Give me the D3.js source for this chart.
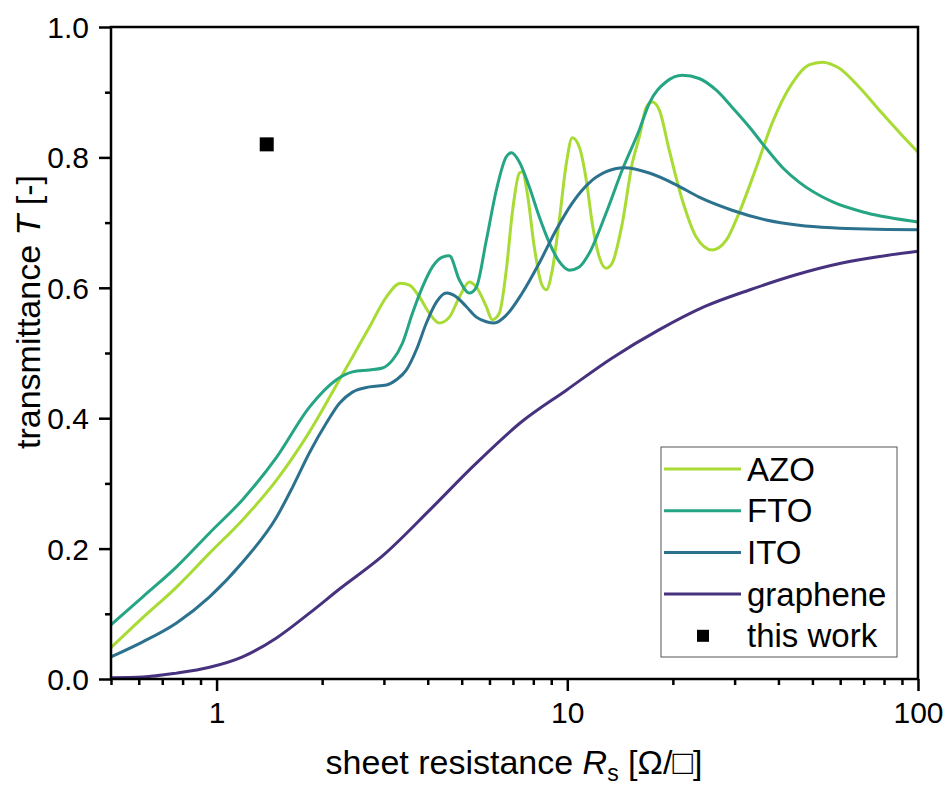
<!DOCTYPE html>
<html>
<head>
<meta charset="utf-8">
<script src="https://cdn.jsdelivr.net/npm/d3@7"></script>
<style>
  body { margin: 0; background: #fff; }
  text { font-family: "Liberation Sans", Arial, sans-serif; fill: #000; }
</style>
</head>
<body>
<div id="chart"></div>
<script>
// data: [sheet resistance, transmittance]
const azo = [[0.5,0.048],[0.616,0.094],[0.769,0.141],[0.955,0.193],[1.186,0.244],[1.482,0.305],[1.84,0.379],
  [2.241,0.459],[2.441,0.494],[2.729,0.54],[3.051,0.586],[3.344,0.607],[3.548,0.604],[3.787,0.586],[4.045,0.561],
  [4.318,0.546],[4.611,0.555],[4.924,0.586],[5.258,0.609],[5.505,0.601],[5.877,0.571],[6.11,0.551],[6.4,0.561],
  [6.7,0.627],[6.97,0.715],[7.3,0.776],[7.44,0.778],[7.69,0.745],[8.05,0.663],[8.43,0.607],[8.71,0.597],
  [9.06,0.627],[9.49,0.704],[9.94,0.791],[10.33,0.83],[10.82,0.816],[11.33,0.765],[11.78,0.699],[12.34,0.647],
  [12.91,0.63],[13.43,0.638],[14.35,0.699],[15.32,0.791],[16.04,0.831],[16.8,0.877],[17.47,0.885],[18.29,0.873],
  [19.53,0.811],[21.27,0.735],[23.31,0.678],[25.9,0.658],[28.4,0.673],[30.9,0.715],[34.6,0.785],[38.4,0.853],
  [43.8,0.914],[48.9,0.942],[53.3,0.946],[59.5,0.937],[67.9,0.908],[78.9,0.868],[90,0.834],[100,0.808]];

const fto = [[0.5,0.083],[0.616,0.126],[0.769,0.172],[0.955,0.224],[1.186,0.275],[1.482,0.34],[1.84,0.417],
  [2.197,0.459],[2.441,0.471],[2.729,0.474],[2.972,0.477],[3.173,0.489],[3.388,0.515],[3.618,0.561],[3.863,0.601],
  [4.125,0.632],[4.405,0.647],[4.611,0.649],[4.924,0.612],[5.258,0.592],[5.505,0.601],[5.877,0.673],[6.277,0.75],
  [6.7,0.801],[6.93,0.807],[7.3,0.793],[7.79,0.755],[8.32,0.709],[8.89,0.669],[9.49,0.64],[10.13,0.627],
  [10.82,0.632],[11.55,0.653],[12.91,0.715],[14.35,0.781],[16.04,0.842],[17.13,0.883],[19.15,0.916],[21.27,0.926],
  [23.77,0.921],[26.6,0.903],[29.5,0.877],[33,0.847],[36.9,0.814],[41,0.785],[45.8,0.762],[56.9,0.732],
  [71.1,0.715],[100,0.701]];

const ito = [[0.5,0.034],[0.616,0.057],[0.769,0.086],[0.955,0.126],[1.186,0.179],[1.482,0.248],[1.646,0.294],
  [1.84,0.347],[2.058,0.393],[2.241,0.423],[2.441,0.44],[2.729,0.448],[3.051,0.451],[3.257,0.459],[3.477,0.474],
  [3.713,0.505],[3.965,0.546],[4.234,0.578],[4.522,0.592],[4.829,0.586],[5.156,0.571],[5.505,0.555],[5.877,0.548],
  [6.19,0.546],[6.7,0.558],[7.44,0.592],[8.32,0.638],[9.3,0.689],[10.33,0.73],[11.55,0.761],[12.91,0.778],
  [14.54,0.784],[17.13,0.776],[20.44,0.758],[23.77,0.739],[29.5,0.719],[36.9,0.704],[45.8,0.696],[56.9,0.692],
  [71.1,0.69],[100,0.689]];

const graphene = [[0.5,0.002],[0.616,0.003],[0.769,0.009],[0.955,0.018],[1.186,0.034],[1.482,0.063],[1.84,0.101],
  [2.241,0.138],[2.99,0.19],[4.05,0.259],[5.43,0.328],[7.35,0.393],[9.94,0.443],[13.4,0.492],[18.2,0.535],
  [24.6,0.571],[33.2,0.597],[44.9,0.62],[60.7,0.638],[82.2,0.65],[100,0.656]];

const thisWork = [[1.39, 0.82]];

const seriesNames = ["AZO", "FTO", "ITO", "graphene"];
const seriesColors = ["#a8db34", "#25a584", "#2c728e", "#46327e"];
const seriesData = [azo, fto, ito, graphene];

const xMajor = [1, 10, 100];
const xMinor = [0.5, 0.6, 0.7, 0.8, 0.9, 2, 3, 4, 5, 6, 7, 8, 9, 20, 30, 40, 50, 60, 70, 80, 90];
const yMajor = [0, 0.2, 0.4, 0.6, 0.8, 1.0];
const yMinor = [0.1, 0.3, 0.5, 0.7, 0.9];

const width = 947, height = 790;
const margin = { left: 111, right: 29, top: 27, bottom: 111 };
const plotW = width - margin.left - margin.right;
const plotH = height - margin.top - margin.bottom;

const svg = d3.select("#chart").append("svg")
  .attr("width", width)
  .attr("height", height);

const x = d3.scaleLog().domain([0.5, 100]).range([0, plotW]);
const y = d3.scaleLinear().domain([0, 1]).range([plotH, 0]);

const g = svg.append("g").attr("transform", `translate(${margin.left},${margin.top})`);

// curves
const line = d3.line()
  .x(d => x(d[0]))
  .y(d => y(d[1]))
  .curve(d3.curveMonotoneX);

seriesData.forEach((data, i) => {
  g.append("path")
    .datum(data)
    .attr("fill", "none")
    .attr("stroke", seriesColors[i])
    .attr("stroke-width", 3)
    .attr("d", line);
});

// this work point
g.selectAll("rect.pt")
  .data(thisWork)
  .enter().append("rect")
  .attr("class", "pt")
  .attr("x", d => x(d[0]) - 7)
  .attr("y", d => y(d[1]) - 7)
  .attr("width", 14)
  .attr("height", 14)
  .attr("fill", "#000");

// axes
const xAxis = g.append("g").attr("transform", `translate(0,${plotH})`)
  .call(d3.axisBottom(x).tickValues(xMajor).tickSize(12).tickSizeOuter(0).tickPadding(6).tickFormat(d3.format("d")));
const xAxisMinor = g.append("g").attr("transform", `translate(0,${plotH})`)
  .call(d3.axisBottom(x).tickValues(xMinor).tickSize(6).tickSizeOuter(0).tickFormat(""));
const yAxis = g.append("g")
  .call(d3.axisLeft(y).tickValues(yMajor).tickSize(12).tickSizeOuter(0).tickPadding(10).tickFormat(d3.format(".1f")));
const yAxisMinor = g.append("g")
  .call(d3.axisLeft(y).tickValues(yMinor).tickSize(6).tickSizeOuter(0).tickFormat(""));

[xAxis, xAxisMinor, yAxis, yAxisMinor].forEach(a => {
  a.select(".domain").remove();
  a.selectAll(".tick line").attr("stroke", "#000").attr("stroke-width", 2.5);
  a.selectAll(".tick text").style("font-size", "30px").attr("fill", "#000");
});
yAxis.selectAll(".tick text").attr("dy", "0.35em");
xAxis.selectAll(".tick text").attr("dy", "0.85em");

// frame
g.append("rect")
  .attr("width", plotW)
  .attr("height", plotH)
  .attr("fill", "none")
  .attr("stroke", "#000")
  .attr("stroke-width", 2.5);

// axis titles
const xTitle = svg.append("text")
  .attr("x", 514)
  .attr("y", 774)
  .attr("text-anchor", "middle")
  .style("font-size", "34px");
xTitle.append("tspan").text("sheet resistance ");
xTitle.append("tspan").style("font-style", "italic").text("R");
xTitle.append("tspan").attr("dy", 7).style("font-size", "23px").text("s");
xTitle.append("tspan").attr("dy", -7).text(" [Ω/□]");

const yTitle = svg.append("text")
  .attr("transform", "translate(40,312) rotate(-90)")
  .attr("text-anchor", "middle")
  .style("font-size", "34px");
yTitle.append("tspan").text("transmittance ");
yTitle.append("tspan").style("font-style", "italic").text("T");
yTitle.append("tspan").text(" [-]");

// legend
const legend = svg.append("g").attr("transform", "translate(661,447)");
legend.append("rect")
  .attr("width", 236)
  .attr("height", 210)
  .attr("fill", "#fff")
  .attr("stroke", "#555")
  .attr("stroke-width", 1);

seriesNames.forEach((name, i) => {
  const yy = 22 + i * 41.7;
  legend.append("line")
    .attr("x1", 3).attr("x2", 80)
    .attr("y1", yy).attr("y2", yy)
    .attr("stroke", seriesColors[i])
    .attr("stroke-width", 3);
  legend.append("text")
    .attr("x", 86).attr("y", yy)
    .attr("dy", "0.35em")
    .style("font-size", "33px")
    .text(name);
});
const lastY = 22 + 4 * 41.7;
legend.append("rect")
  .attr("x", 36).attr("y", lastY - 6)
  .attr("width", 12).attr("height", 12)
  .attr("fill", "#000");
legend.append("text")
  .attr("x", 86).attr("y", lastY)
  .attr("dy", "0.35em")
  .style("font-size", "33px")
  .text("this work");
</script>
</body>
</html>
